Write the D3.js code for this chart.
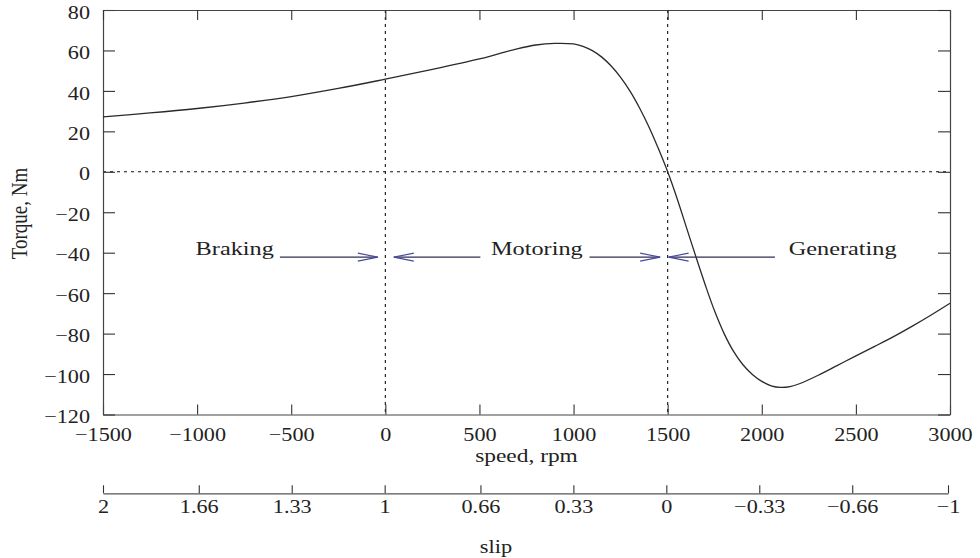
<!DOCTYPE html>
<html>
<head>
<meta charset="utf-8">
<script src="https://cdn.jsdelivr.net/npm/d3@7"></script>
<style>
  html, body { margin: 0; padding: 0; background: #fff; }
  svg { display: block; }
  text { font-family: "Liberation Serif", "Times New Roman", serif; fill: #222; }
</style>
</head>
<body>
<svg id="chart" width="980" height="558"></svg>
<script>
// Torque-speed characteristic of an induction machine
const speedRpm = [-1500, -1250, -1000, -750, -500, -250, 0, 250, 500, 600, 700, 800, 900, 1000,
  1050, 1100, 1150, 1200, 1250, 1300, 1350, 1400, 1450, 1500, 1550, 1600, 1650, 1700, 1750,
  1800, 1850, 1900, 1950, 2000, 2050, 2100, 2150, 2200, 2300, 2400, 2500, 2600, 2700, 2800, 2900, 3000];
const torqueNm = [27.2, 29.1, 31.3, 34.0, 37.2, 41.2, 45.8, 50.6, 55.8, 58.3, 60.8, 62.7, 63.5, 63.2,
  62.0, 59.9, 56.7, 52.3, 46.7, 39.9, 31.7, 22.3, 11.6, 0, -13.2, -27.6, -42, -56, -69,
  -80, -88.8, -95.4, -100.2, -103.6, -105.8, -106.6, -106.2, -104.8, -100.6, -95.8, -91.0, -86.3, -81.5, -76.3, -70.8, -65.0];

const speedTicks = [-1500, -1000, -500, 0, 500, 1000, 1500, 2000, 2500, 3000];
const torqueTicks = [80, 60, 40, 20, 0, -20, -40, -60, -80, -100, -120];
const slipTicks = [2, 1.66, 1.33, 1, 0.66, 0.33, 0, -0.33, -0.66, -1];
const slipTickLabels = ["2", "1.66", "1.33", "1", "0.66", "0.33", "0", "\u22120.33", "\u22120.66", "\u22121"];

// Operating regions: label, label centre (rpm), arrow segments [from, to] in rpm (arrowhead at "to")
const regionNames = ["Braking", "Motoring", "Generating"];
const regionLabelSpeed = [-800, 805, 2430];
const regionArrows = [
  [[-560, -40]],
  [[505, 45], [1085, 1460]],
  [[2070, 1505]]
];
const arrowTorque = -42.2;

const svg = d3.select("#chart");
const plotLeft = 103, plotRight = 950, plotTop = 10, plotBottom = 414.5;
const sx = 1.2; // horizontal text stretch

const x = d3.scaleLinear().domain([-1500, 3000]).range([plotLeft, plotRight]);
const y = d3.scaleLinear().domain([-120, 80]).range([plotBottom, plotTop]);
const slip = d3.scaleLinear().domain([2, -1]).range([plotLeft, 948]);

const fmt = d => (d < 0 ? "\u2212" + Math.abs(d) : String(d));

// reference lines (dotted)
const dots = svg.append("g").attr("stroke", "#111").attr("stroke-width", 1.1)
  .attr("stroke-dasharray", "3,4").attr("fill", "none");
dots.append("line").attr("x1", x(-1500)).attr("x2", x(3000)).attr("y1", y(0)).attr("y2", y(0));
[0, 1500].forEach(v => dots.append("line").attr("x1", x(v)).attr("x2", x(v)).attr("y1", y(80)).attr("y2", y(-120)));

// axes with inward ticks on all four sides
function styleAxis(g) {
  g.selectAll("path.domain").attr("stroke", "#444").attr("stroke-width", 1.2);
  g.selectAll(".tick line").attr("stroke", "#333").attr("stroke-width", 1.1);
  g.selectAll("text").attr("font-size", 18.5).attr("fill", "#222")
    .style("font-family", '"Liberation Serif", serif');
}
const gx = svg.append("g").attr("transform", `translate(0,${plotBottom})`)
  .call(d3.axisBottom(x).tickValues(speedTicks).tickSize(-10).tickSizeOuter(0).tickPadding(13).tickFormat(fmt))
  .call(styleAxis);
gx.selectAll("text").attr("transform", `scale(${sx},1)`);

const gy = svg.append("g").attr("transform", `translate(${plotLeft},0)`)
  .call(d3.axisLeft(y).tickValues(torqueTicks).tickSize(-12).tickSizeOuter(0).tickFormat(fmt))
  .call(styleAxis);
gy.selectAll("text").attr("x", -13 / sx).attr("dy", "0.44em").attr("transform", `scale(${sx},1)`);

svg.append("g").attr("transform", `translate(0,${plotTop})`)
  .call(d3.axisTop(x).tickValues(speedTicks).tickSize(-10).tickSizeOuter(0).tickFormat(""))
  .call(styleAxis);
svg.append("g").attr("transform", `translate(${plotRight},0)`)
  .call(d3.axisRight(y).tickValues(torqueTicks).tickSize(-12).tickSizeOuter(0).tickFormat(""))
  .call(styleAxis);

// slip axis below the speed axis
const gs = svg.append("g").attr("transform", "translate(0,493.3)")
  .call(d3.axisBottom(slip).tickValues(slipTicks).tickSize(-8).tickSizeOuter(0).tickPadding(7)
    .tickFormat((d, i) => slipTickLabels[i]))
  .call(styleAxis);
gs.select("path.domain").attr("stroke", "#555");
gs.selectAll("text").attr("transform", `scale(${sx},1)`);

// axis titles
svg.append("text").attr("transform", `translate(526.5,462) scale(1.3,1)`)
  .attr("text-anchor", "middle").attr("font-size", 18).text("speed, rpm");
svg.append("text").attr("transform", `translate(496,553) scale(1.15,1)`)
  .attr("text-anchor", "middle").attr("font-size", 19.5).text("slip");
svg.append("text").attr("transform", `translate(27,213.5) scale(${sx},1) rotate(-90)`)
  .attr("text-anchor", "middle").attr("font-size", 19).text("Torque, Nm");

// torque curve
const line = d3.line().x(d => x(d[0])).y(d => y(d[1])).curve(d3.curveCatmullRom.alpha(0.5));
svg.append("path").datum(speedRpm.map((s, i) => [s, torqueNm[i]]))
  .attr("d", line).attr("fill", "none").attr("stroke", "#2a2a2a").attr("stroke-width", 1.3);

// region annotations
const ann = svg.append("g");
regionNames.forEach((name, i) => {
  ann.append("text")
    .attr("transform", `translate(${x(regionLabelSpeed[i])},${y(arrowTorque) - 2}) scale(1.35,1)`)
    .attr("text-anchor", "middle").attr("font-size", 18).attr("fill", "#2c2c78").text(name);
  regionArrows[i].forEach(([a, b]) => {
    const ya = y(arrowTorque), xa = x(a), xb = x(b);
    ann.append("line").attr("x1", xa).attr("x2", xb).attr("y1", ya).attr("y2", ya)
      .attr("stroke", "#2f2f4f").attr("stroke-width", 1.1);
    const dir = Math.sign(xb - xa);
    ann.append("path")
      .attr("d", `M${xb - dir * 20},${ya - 4}L${xb},${ya}L${xb - dir * 20},${ya + 4}`)
      .attr("fill", "none").attr("stroke", "#4848a0").attr("stroke-width", 1.1);
  });
});
</script>
</body>
</html>
